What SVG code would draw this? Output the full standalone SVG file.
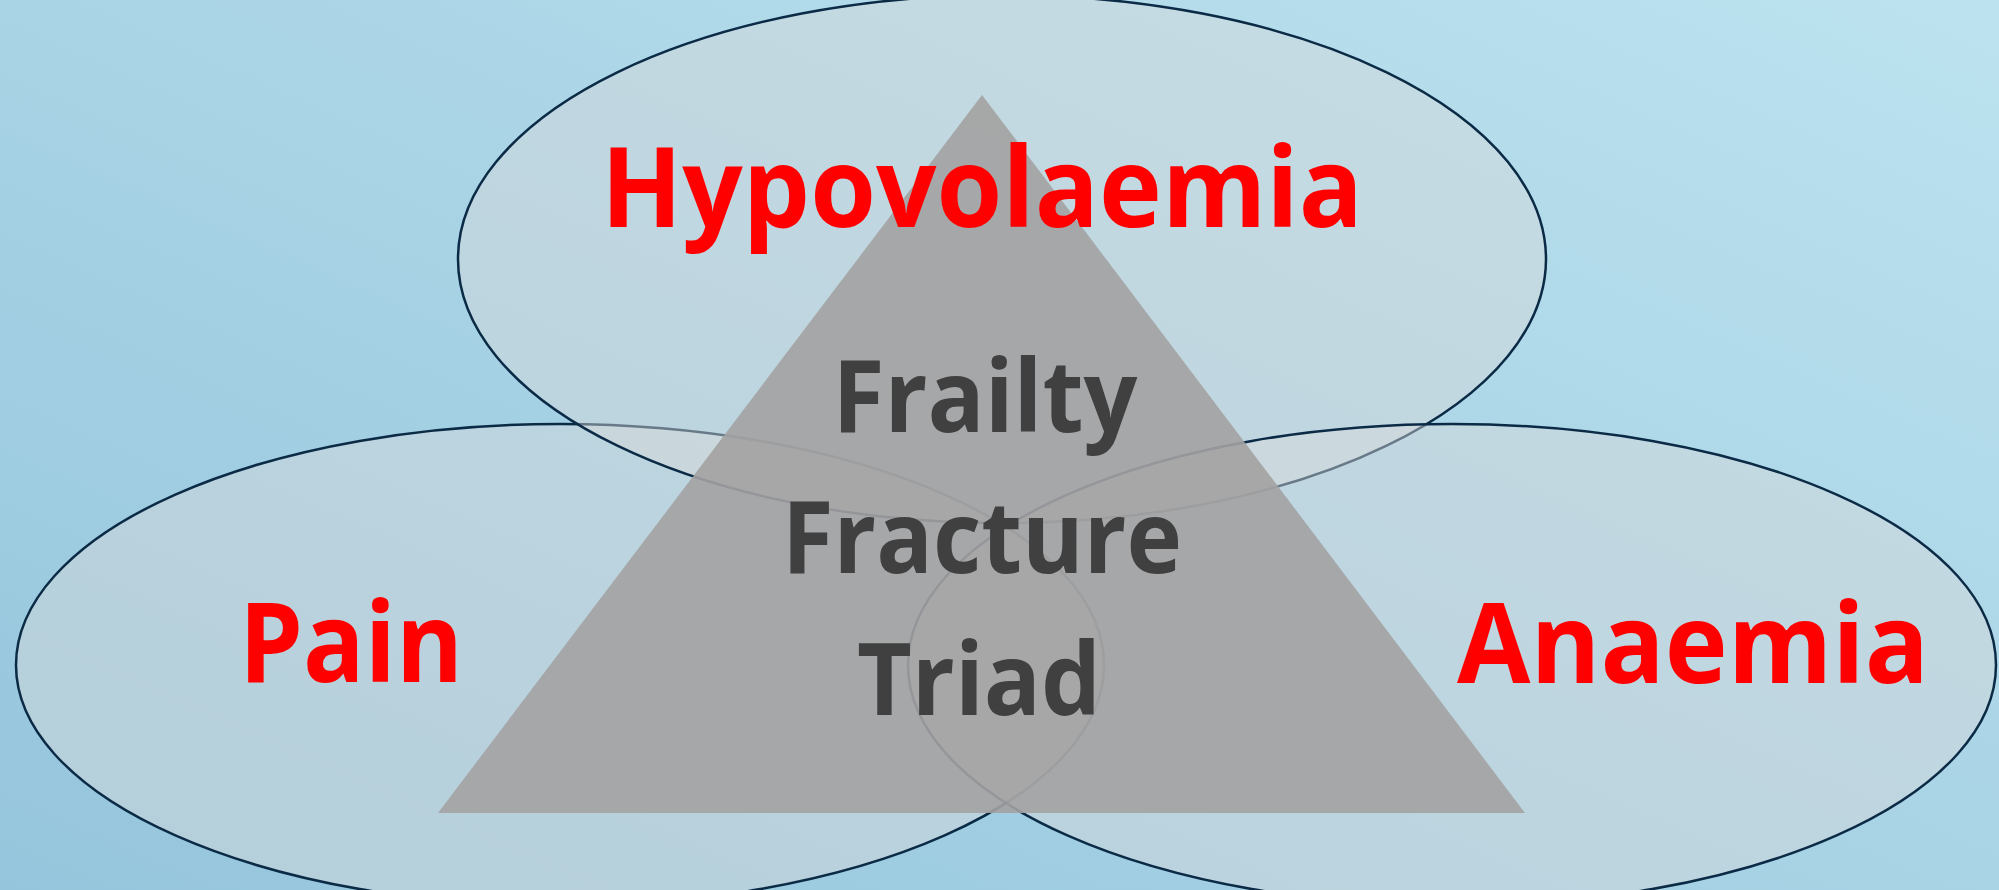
<svg xmlns="http://www.w3.org/2000/svg" width="1999" height="890" viewBox="0 0 1999 890">
  <defs>
    <linearGradient id="bg" x1="0" y1="1" x2="1" y2="0">
      <stop offset="0" stop-color="#95c5dc"/>
      <stop offset="1" stop-color="#bce2ef"/>
    </linearGradient>
    <style>
      .ell { fill: #d9d9d9; fill-opacity: 0.45; stroke: #0b2a45; stroke-width: 2.5; }
      .tri { fill: #a3a2a2; fill-opacity: 0.9; }
      .red { font-family: "Open Sans", Lato, sans-serif; font-weight: bold; font-size: 112px; fill: #ff0000; }
      .mid { font-family: "Open Sans", Lato, sans-serif; font-weight: bold; font-size: 100px; fill: #404040; }
    </style>
  </defs>
  <rect x="0" y="0" width="1999" height="890" fill="url(#bg)"/>
  <g id="pain">
    <ellipse class="ell" cx="560" cy="665" rx="544" ry="241"/>
  </g>
  <g id="hypovolaemia">
    <ellipse class="ell" cx="1002" cy="259" rx="544" ry="264"/>
  </g>
  <g id="anaemia">
    <ellipse class="ell" cx="1452" cy="665" rx="544" ry="241"/>
  </g>
  <g id="triad">
    <polygon class="tri" points="982,95 438,813 1525,813"/>
  </g>
  <g id="labels">
    <text class="red" x="982" y="227" text-anchor="middle" textLength="762" lengthAdjust="spacingAndGlyphs">Hypovolaemia</text>
    <text class="red" x="351" y="682" text-anchor="middle" textLength="224" lengthAdjust="spacingAndGlyphs">Pain</text>
    <text class="red" x="1693" y="683" text-anchor="middle" textLength="472" lengthAdjust="spacingAndGlyphs">Anaemia</text>
    <text class="mid" x="985" y="432" text-anchor="middle" textLength="305" lengthAdjust="spacingAndGlyphs">Frailty</text>
    <text class="mid" x="982" y="573" text-anchor="middle" textLength="400" lengthAdjust="spacingAndGlyphs">Fracture</text>
    <text class="mid" x="979" y="715" text-anchor="middle" textLength="244" lengthAdjust="spacingAndGlyphs">Triad</text>
  </g>
  <g id="connectors"></g>
</svg>
